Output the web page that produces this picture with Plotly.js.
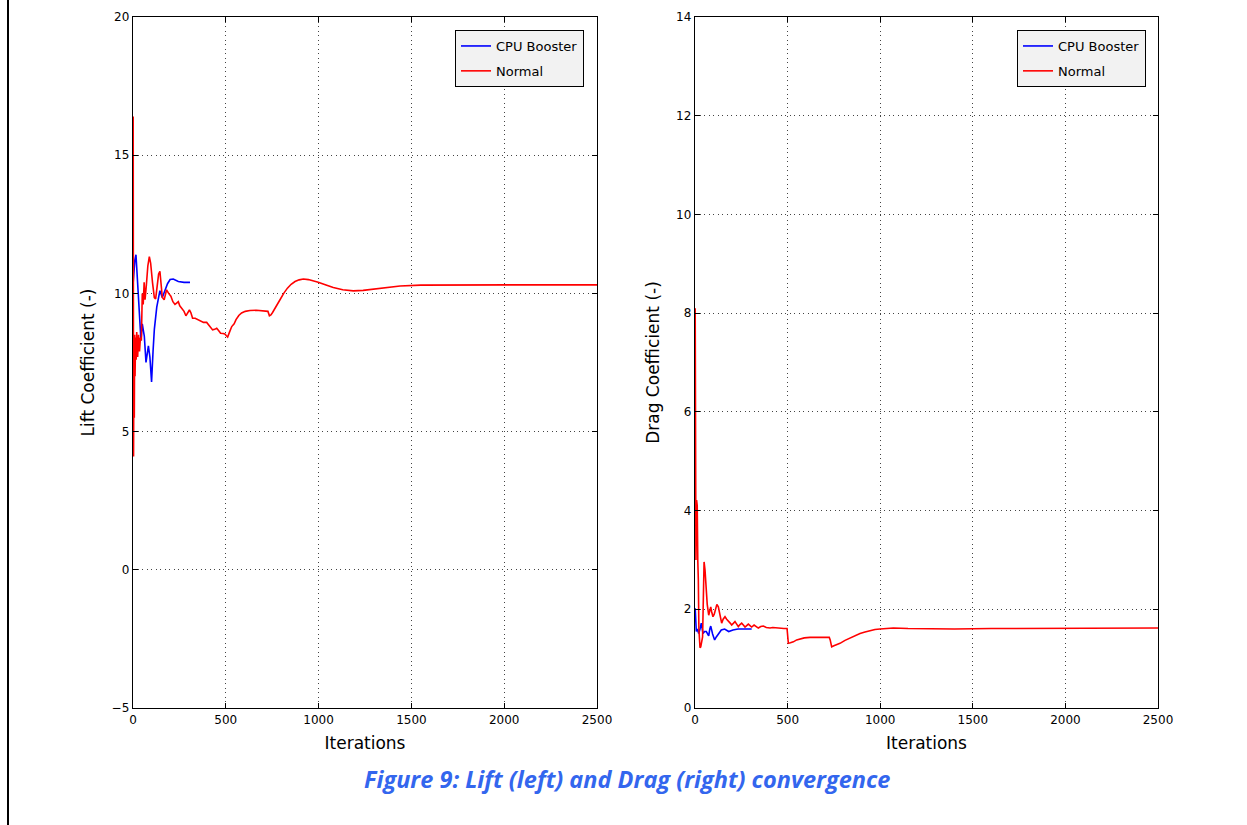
<!DOCTYPE html>
<html>
<head>
<meta charset="utf-8">
<script src="https://cdn.plot.ly/plotly-3.0.1.min.js"></script>
<style>
html,body{margin:0;padding:0;background:#fff;}
#chart{width:1247px;height:825px;}
</style>
</head>
<body>
<div id="chart"></div>
<script>
// ---- Data ----
const seriesNames = ["CPU Booster", "Normal"];
const xTicks = [0, 500, 1000, 1500, 2000, 2500];
const liftTicks = [-5, 0, 5, 10, 15, 20];
const dragTicks = [0, 2, 4, 6, 8, 10, 12, 14];

// Lift – CPU Booster
const liftBoosterIter = [1,5,10,16,24,32,43,50,61,70,83,91,100,108,115,128,145,158,172,186,200,217,244,275,307];
const liftBoosterVal  = [10.4,11.0,11.2,11.4,10.6,9.4,8.3,8.9,8.45,7.5,8.1,7.7,6.8,7.9,8.7,9.5,10.1,9.85,10.1,10.35,10.5,10.52,10.43,10.4,10.4];

// Lift – Normal
const liftNormalIter = [1,3,5,7,9,11,14,17,20,25,30,35,40,45,50,55,60,65,72,80,88,95,105,115,122,130,138,145,152,158,168,181,192,204,215,226,235,244,252,262,275,285,295,304,312,321,335,350,361,380,397,413,429,440,451,462,472,485,495,503,510,520,532,545,555,570,585,605,630,665,702,720,727,735,743,752,770,792,812,832,852,873,895,918,945,970,998,1040,1079,1130,1187,1240,1295,1370,1439,1550,1700,1900,2100,2300,2500];
const liftNormalVal  = [16.4,4.1,7.9,5.5,8.5,7.0,8.4,7.6,8.6,7.7,8.5,7.9,8.4,8.3,10.0,9.6,10.4,9.77,10.3,11.0,11.33,11.1,10.4,9.85,9.8,10.2,10.7,10.8,10.3,9.85,9.77,10.13,10.0,9.9,9.7,9.6,9.65,9.7,9.55,9.47,9.35,9.19,9.3,9.4,9.3,9.1,9.1,9.05,9.04,8.95,8.95,8.82,8.68,8.7,8.74,8.65,8.56,8.55,8.53,8.47,8.42,8.6,8.8,8.9,9.05,9.2,9.29,9.35,9.38,9.39,9.38,9.36,9.35,9.19,9.22,9.31,9.5,9.77,10.0,10.19,10.33,10.43,10.49,10.52,10.5,10.46,10.4,10.3,10.21,10.13,10.09,10.11,10.16,10.22,10.27,10.3,10.31,10.31,10.31,10.31,10.31];

// Drag – CPU Booster
const dragBoosterIter = [1,3,7,13,20,27,34,43,52,61,74,80,85,95,106,115,124,133,142,160,182,205,232,270,306];
const dragBoosterVal  = [2.02,1.55,1.55,1.6,1.51,1.6,1.72,1.51,1.55,1.55,1.46,1.6,1.66,1.5,1.38,1.44,1.48,1.54,1.58,1.6,1.55,1.58,1.6,1.6,1.6];

// Drag – Normal
const dragNormalIter = [1,3,5,7,9,12,15,18,21,23,27,31,36,41,45,49,54,61,66,74,80,85,90,97,104,110,118,126,133,140,144,152,162,171,180,190,198,207,216,225,234,243,252,261,270,279,288,297,306,319,330,342,355,369,385,405,420,440,459,480,497,499,504,515,531,549,567,590,621,660,700,725,730,738,750,765,783,810,837,864,891,918,945,972,999,1040,1071,1150,1269,1400,1600,1800,2000,2200,2500];
const dragNormalVal  = [8.1,5.5,3.0,4.2,4.2,4.1,3.0,2.6,1.6,1.31,1.22,1.24,1.35,1.44,2.2,2.96,2.8,2.3,2.1,1.88,2.0,2.05,1.95,1.85,1.9,2.02,2.1,2.05,1.9,1.78,1.72,1.8,1.85,1.8,1.75,1.72,1.68,1.72,1.75,1.7,1.65,1.69,1.72,1.68,1.64,1.67,1.7,1.67,1.64,1.68,1.65,1.62,1.65,1.66,1.63,1.62,1.63,1.62,1.61,1.61,1.61,1.45,1.31,1.32,1.34,1.38,1.4,1.42,1.43,1.43,1.43,1.43,1.38,1.24,1.26,1.28,1.31,1.37,1.42,1.47,1.51,1.54,1.57,1.59,1.6,1.61,1.62,1.61,1.6,1.6,1.61,1.61,1.62,1.62,1.62];

const caption = "Figure 9: Lift (left) and Drag (right) convergence";

// ---- Styles ----
const BLUE = "#0000ff", RED = "#ff0000";
const FONT = "DejaVu Sans, sans-serif";

const traces = [
  {x: liftBoosterIter, y: liftBoosterVal, name: seriesNames[0], type: "scatter", mode: "lines",
   line: {color: BLUE, width: 1.6}, xaxis: "x", yaxis: "y", legend: "legend", legendgroup: "a"},
  {x: liftNormalIter, y: liftNormalVal, name: seriesNames[1], type: "scatter", mode: "lines",
   line: {color: RED, width: 1.6}, xaxis: "x", yaxis: "y", legend: "legend", legendgroup: "b"},
  {x: dragBoosterIter, y: dragBoosterVal, name: seriesNames[0], type: "scatter", mode: "lines",
   line: {color: BLUE, width: 1.6}, xaxis: "x2", yaxis: "y2", legend: "legend2", legendgroup: "c"},
  {x: dragNormalIter, y: dragNormalVal, name: seriesNames[1], type: "scatter", mode: "lines",
   line: {color: RED, width: 1.6}, xaxis: "x2", yaxis: "y2", legend: "legend2", legendgroup: "d"}
];

function axisBase(extra) {
  return Object.assign({
    showline: true, mirror: "ticks", linecolor: "#000", linewidth: 1.3,
    ticks: "inside", ticklen: 5, tickcolor: "#000", tickwidth: 1,
    showgrid: true, gridcolor: "#444", griddash: "1px,3.5px", gridwidth: 1,
    zeroline: false,
    tickfont: {family: FONT, size: 12, color: "#000"}
  }, extra);
}

const legendStyle = {
  bgcolor: "#f2f2f2", bordercolor: "#000", borderwidth: 1,
  font: {family: FONT, size: 13, color: "#000"},
  xanchor: "right", yanchor: "top", traceorder: "grouped", tracegroupgap: 5, itemwidth: 30
};

const layout = {
  width: 1247, height: 825,
  margin: {l: 0, r: 0, t: 17, b: 117},
  paper_bgcolor: "#fff", plot_bgcolor: "#fff",
  showlegend: true,
  xaxis: axisBase({domain: [133/1247, 597/1247], range: [0, 2500], tickvals: xTicks,
    title: {text: "Iterations", font: {family: FONT, size: 17, color: "#000"}, standoff: 11}, anchor: "y"}),
  yaxis: axisBase({domain: [0, 1], range: [-5, 20], tickvals: liftTicks,
    title: {text: "Lift Coefficient (-)", font: {family: FONT, size: 17, color: "#000"}, standoff: 12}, anchor: "x"}),
  xaxis2: axisBase({domain: [695/1247, 1158/1247], range: [0, 2500], tickvals: xTicks,
    title: {text: "Iterations", font: {family: FONT, size: 17, color: "#000"}, standoff: 11}, anchor: "y2"}),
  yaxis2: axisBase({domain: [0, 1], range: [0, 14], tickvals: dragTicks,
    title: {text: "Drag Coefficient (-)", font: {family: FONT, size: 17, color: "#000"}, standoff: 12}, anchor: "x2"}),
  legend: Object.assign({x: 584/1247, y: (708-30)/691}, legendStyle),
  legend2: Object.assign({x: 1146/1247, y: (708-30)/691}, legendStyle),
  shapes: [
    {type: "line", xref: "paper", yref: "paper", x0: 8/1247, x1: 8/1247,
     y0: (708-825)/691, y1: 708/691, line: {color: "#000", width: 2}}
  ],
  annotations: [
    {text: caption, xref: "paper", yref: "paper", x: 627/1247, y: (708-779)/691,
     xanchor: "center", yanchor: "middle", showarrow: false,
     font: {family: "Open Sans, sans-serif", size: 23.5, color: "#3366ee", weight: "bold", style: "italic"}}
  ]
};

Plotly.newPlot("chart", traces, layout, {displayModeBar: false, staticPlot: true});
</script>
</body>
</html>
